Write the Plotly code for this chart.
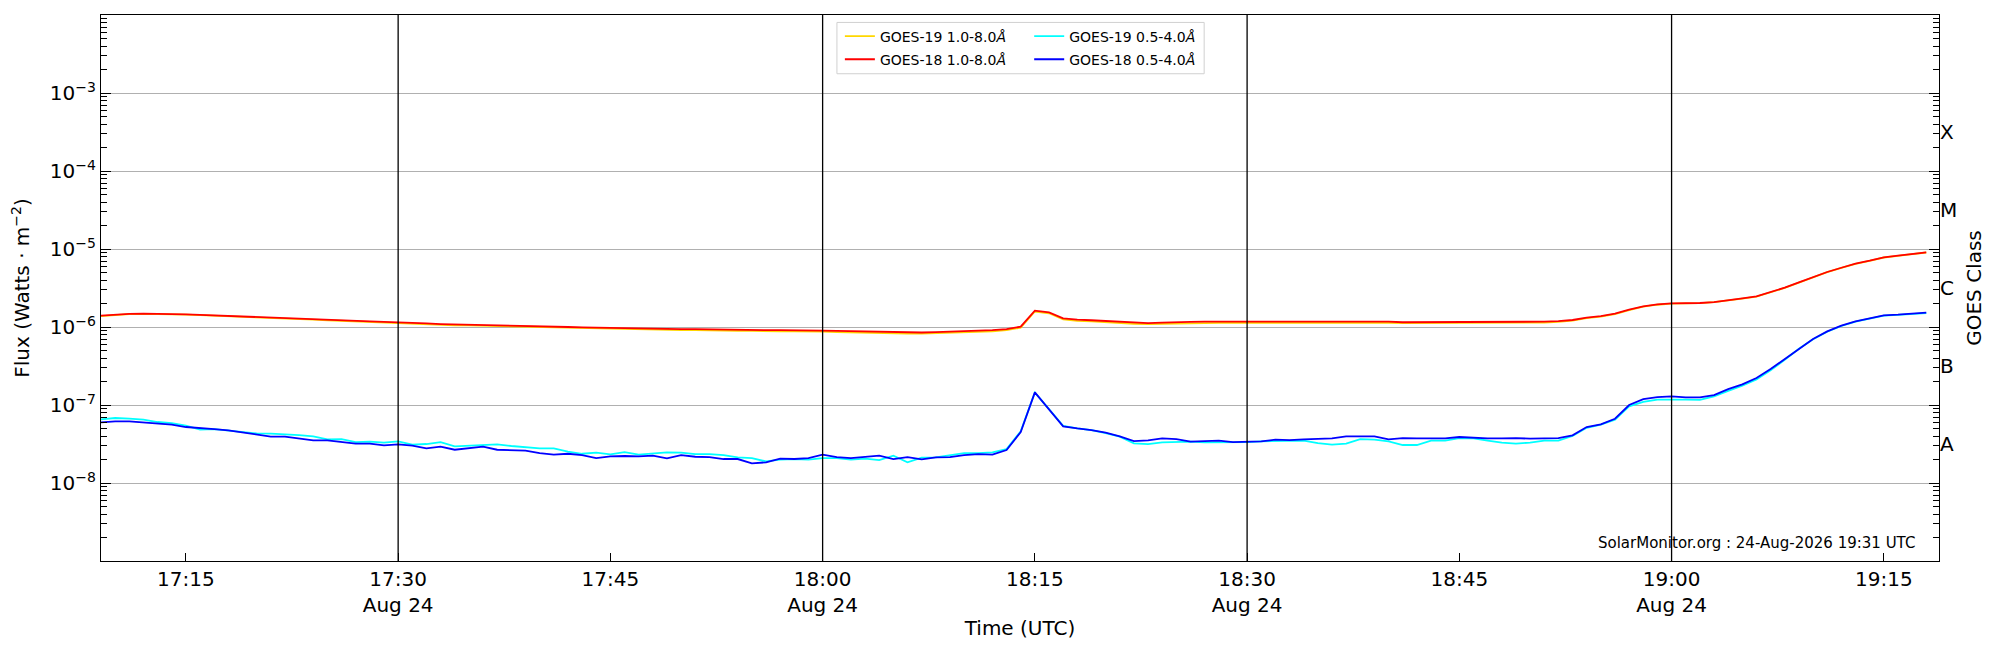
import pandas as pd
import plotly.graph_objects as go

# ---------------- data (1-minute cadence, 2026-08-24 17:09 .. 19:18 UTC) ----------------
start_time = "2026-08-24 17:09"
n_points = 130

# GOES-19 1.0-8.0 A  (x 1e-6 W/m^2)
goes19_long = [
    1.38, 1.43, 1.46, 1.47, 1.47, 1.46, 1.44, 1.42, 1.40, 1.38,
    1.36, 1.34, 1.31, 1.29, 1.27, 1.24, 1.22, 1.20, 1.18, 1.16,
    1.14, 1.12, 1.10, 1.08, 1.06, 1.05, 1.05, 1.04, 1.03, 1.02,
    1.01, 1.00, 0.98, 0.97, 0.96, 0.95, 0.94, 0.93, 0.93, 0.92,
    0.92, 0.91, 0.91, 0.90, 0.90, 0.89, 0.89, 0.88, 0.88, 0.88,
    0.88, 0.87, 0.86, 0.85, 0.84, 0.84, 0.83, 0.82, 0.82, 0.83,
    0.84, 0.85, 0.86, 0.88, 0.91, 0.98, 1.58, 1.50, 1.25, 1.20,
    1.18, 1.15, 1.12, 1.10, 1.09, 1.10, 1.12, 1.12, 1.13, 1.13,
    1.13, 1.13, 1.13, 1.13, 1.13, 1.14, 1.14, 1.14, 1.15, 1.15,
    1.15, 1.13, 1.12, 1.12, 1.12, 1.12, 1.12, 1.12, 1.12, 1.13,
    1.13, 1.14, 1.14, 1.16, 1.21, 1.30, 1.36, 1.46, 1.65, 1.82,
    1.93, 1.99, 2.00, 2.02, 2.08, 2.18, 2.31, 2.45, 2.76, 3.17,
    3.70, 4.34, 5.04, 5.72, 6.45, 7.05, 7.78, 8.17, 8.60, 9.02,
]

# GOES-18 1.0-8.0 A  (x 1e-6 W/m^2)
goes18_long = [
    1.40, 1.44, 1.47, 1.48, 1.48, 1.47, 1.45, 1.43, 1.41, 1.39,
    1.37, 1.35, 1.32, 1.30, 1.28, 1.26, 1.24, 1.22, 1.20, 1.18,
    1.16, 1.15, 1.13, 1.11, 1.09, 1.08, 1.08, 1.08, 1.07, 1.05,
    1.04, 1.03, 1.01, 1.00, 0.99, 0.98, 0.97, 0.96, 0.96, 0.95,
    0.95, 0.94, 0.94, 0.93, 0.93, 0.92, 0.92, 0.91, 0.91, 0.91,
    0.91, 0.90, 0.89, 0.88, 0.87, 0.87, 0.86, 0.85, 0.85, 0.86,
    0.87, 0.88, 0.89, 0.91, 0.94, 1.01, 1.62, 1.54, 1.29, 1.24,
    1.22, 1.19, 1.16, 1.13, 1.12, 1.14, 1.16, 1.16, 1.17, 1.17,
    1.17, 1.17, 1.17, 1.17, 1.17, 1.18, 1.18, 1.18, 1.19, 1.19,
    1.19, 1.17, 1.15, 1.15, 1.15, 1.15, 1.15, 1.15, 1.15, 1.16,
    1.16, 1.17, 1.17, 1.19, 1.23, 1.32, 1.38, 1.48, 1.67, 1.84,
    1.95, 2.01, 2.01, 2.03, 2.09, 2.19, 2.33, 2.47, 2.78, 3.19,
    3.73, 4.37, 5.07, 5.75, 6.48, 7.08, 7.81, 8.20, 8.63, 9.05,
]

# GOES-19 0.5-4.0 A  (x 1e-8 W/m^2)
goes19_short = [
    6.54, 6.81, 6.67, 6.48, 6.05, 5.87, 5.43, 4.83, 4.92, 4.69,
    4.55, 4.33, 4.29, 4.21, 4.12, 3.96, 3.63, 3.66, 3.35, 3.39,
    3.29, 3.42, 3.10, 3.16, 3.35, 2.95, 3.01, 3.01, 3.13, 2.98,
    2.86, 2.78, 2.78, 2.52, 2.37, 2.45, 2.33, 2.49, 2.31, 2.40,
    2.47, 2.45, 2.35, 2.35, 2.28, 2.13, 2.09, 1.89, 1.99, 2.03,
    1.99, 2.09, 2.09, 1.99, 2.05, 1.97, 2.24, 1.84, 2.11, 2.13,
    2.26, 2.42, 2.42, 2.47, 2.72, 4.59, 14.5, 8.80, 5.40, 5.00,
    4.77, 4.37, 3.93, 3.22, 3.15, 3.32, 3.39, 3.39, 3.32, 3.32,
    3.35, 3.35, 3.42, 3.45, 3.49, 3.49, 3.25, 3.10, 3.19, 3.66,
    3.59, 3.42, 3.07, 3.07, 3.49, 3.49, 3.77, 3.73, 3.50, 3.30,
    3.20, 3.30, 3.50, 3.50, 4.00, 5.10, 5.60, 6.50, 9.60, 11.0,
    11.7, 11.8, 11.7, 11.6, 12.9, 15.2, 17.7, 21.3, 27.8, 38.0,
    52.5, 69.5, 87.0, 103.0, 117.0, 128.0, 140.0, 143.0, 146.0, 151.0,
]

# GOES-18 0.5-4.0 A  (x 1e-8 W/m^2)
goes18_short = [
    5.99, 6.17, 6.17, 5.99, 5.75, 5.59, 5.22, 5.12, 4.92, 4.73,
    4.46, 4.12, 3.93, 3.93, 3.73, 3.52, 3.52, 3.35, 3.19, 3.19,
    3.04, 3.13, 3.01, 2.78, 2.92, 2.67, 2.78, 2.92, 2.67, 2.62,
    2.60, 2.42, 2.31, 2.37, 2.28, 2.09, 2.19, 2.22, 2.19, 2.24,
    2.07, 2.28, 2.17, 2.15, 2.03, 2.03, 1.79, 1.84, 2.05, 2.03,
    2.09, 2.31, 2.15, 2.09, 2.17, 2.24, 2.03, 2.15, 2.01, 2.13,
    2.15, 2.28, 2.35, 2.31, 2.65, 4.50, 14.5, 8.70, 5.32, 5.00,
    4.77, 4.41, 3.96, 3.45, 3.52, 3.73, 3.66, 3.39, 3.45, 3.49,
    3.35, 3.35, 3.42, 3.59, 3.55, 3.62, 3.70, 3.73, 3.96, 3.93,
    3.96, 3.62, 3.76, 3.73, 3.76, 3.73, 3.89, 3.80, 3.73, 3.73,
    3.77, 3.70, 3.73, 3.77, 4.08, 5.21, 5.65, 6.67, 10.0, 11.9,
    12.6, 12.9, 12.5, 12.5, 13.4, 16.0, 18.4, 22.2, 28.9, 38.8,
    53.2, 70.1, 87.9, 104.0, 118.0, 129.0, 141.0, 144.0, 147.0, 153.0,
]

series_names = ["GOES-19 1.0-8.0<i>Å</i>", "GOES-18 1.0-8.0<i>Å</i>",
                "GOES-19 0.5-4.0<i>Å</i>", "GOES-18 0.5-4.0<i>Å</i>"]
series_colors = ["#FFD700", "#FF0000", "#00FFFF", "#0000FF"]

tick_times = ["17:15", "17:30", "17:45", "18:00", "18:15", "18:30",
              "18:45", "19:00", "19:15"]
tick_labels = ["17:15", "17:30<br>Aug 24", "17:45", "18:00<br>Aug 24", "18:15",
               "18:30<br>Aug 24", "18:45", "19:00<br>Aug 24", "19:15"]
day_lines = ["17:30", "18:00", "18:30", "19:00"]

flux_exponents = [-8, -7, -6, -5, -4, -3]
goes_classes = ["A", "B", "C", "M", "X"]
class_exponents = [-7.5, -6.5, -5.5, -4.5, -3.5]

x_range = ["2026-08-24 17:09:00", "2026-08-24 19:18:54"]
y_range_exp = [-9, -2]
watermark = "SolarMonitor.org : 24-Aug-2026 19:31 UTC"

# ---------------- figure ----------------
FONT = "DejaVu Sans"
times = pd.date_range(start_time, periods=n_points, freq="1min")
day = "2026-08-24 "

fig = go.Figure()
scales = [1e-6, 1e-6, 1e-8, 1e-8]
values = [goes19_long, goes18_long, goes19_short, goes18_short]
legends = ["legend", "legend", "legend2", "legend2"]
for i, (name, col, sc, vals, lg) in enumerate(zip(series_names, series_colors, scales, values, legends)):
    fig.add_trace(go.Scatter(
        x=times, y=[v * sc for v in vals], mode="lines", name=name,
        line=dict(color=col, width=1.8), legend=lg,
        legendgroup=f"g{i}",
    ))

# invisible trace to carry the right (GOES class) axis
fig.add_trace(go.Scatter(x=[times[0]], y=[1e-5], yaxis="y2", mode="markers",
                         marker=dict(opacity=0), showlegend=False, hoverinfo="skip"))

for t in day_lines:
    fig.add_shape(type="line", xref="x", yref="paper", x0=day + t, x1=day + t,
                  y0=0, y1=1, line=dict(color="black", width=1.3), layer="above")

minor_vals = [k * 10.0 ** e for e in range(y_range_exp[0], y_range_exp[1]) for k in range(2, 10)]

# page body has an 8px default margin -> figure is 8px smaller so it fits the window
fig.update_layout(
    width=1992, height=642,
    margin=dict(l=93, r=61, t=7, b=89),
    paper_bgcolor="white", plot_bgcolor="white",
    font=dict(family=FONT, size=20, color="black"),
    showlegend=True,
    xaxis=dict(
        type="date", range=x_range,
        tickmode="array", tickvals=[day + t for t in tick_times], ticktext=tick_labels,
        ticks="inside", ticklen=8, tickwidth=1, tickcolor="black",
        showgrid=False, zeroline=False,
        showline=True, linecolor="black", linewidth=1.3, mirror=True,
        tickfont=dict(size=20),
        title=dict(text="Time (UTC)", font=dict(size=20), standoff=4),
    ),
    yaxis=dict(
        type="log", range=y_range_exp,
        tickmode="array", tickvals=[10.0 ** e for e in flux_exponents],
        ticktext=[f"10<sup>\u2212{-e}</sup>" for e in flux_exponents],
        ticks="inside", ticklen=10, tickwidth=1, tickcolor="black",
        minor=dict(tickmode="array", tickvals=minor_vals, ticks="inside",
                   ticklen=6, tickwidth=1, tickcolor="black", showgrid=False),
        showgrid=True, gridcolor="#b0b0b0", gridwidth=1.2,
        zeroline=False, showline=True, linecolor="black", linewidth=1.3, mirror="allticks",
        tickfont=dict(size=20),
        title=dict(text="Flux (Watts \u00b7 m<sup>\u22122</sup>)", font=dict(size=20), standoff=14),
    ),
    yaxis2=dict(
        type="log", range=y_range_exp, overlaying="y", side="right",
        tickmode="array", tickvals=[10.0 ** e for e in class_exponents], ticktext=goes_classes,
        ticks="", showgrid=False, zeroline=False, showline=False,
        tickfont=dict(size=20),
        title=dict(text="GOES Class", font=dict(size=20), standoff=10),
    ),
    legend=dict(x=0.402, xanchor="left", y=0.99, yanchor="top",
                bgcolor="rgba(0,0,0,0)", borderwidth=0, font=dict(size=14),
                tracegroupgap=2, traceorder="grouped"),
    legend2=dict(x=0.505, xanchor="left", y=0.99, yanchor="top",
                 bgcolor="rgba(0,0,0,0)", borderwidth=0, font=dict(size=14),
                 tracegroupgap=2, traceorder="grouped"),
)

# legend frame
fig.add_shape(type="rect", xref="paper", yref="paper", x0=0.4004, x1=0.6002,
              y0=0.8924, y1=0.9864, line=dict(color="#d0d0d0", width=1),
              fillcolor="rgba(255,255,255,0.8)", layer="above")

fig.add_annotation(text=watermark, xref="paper", yref="paper", x=0.988, y=0.033,
                   xanchor="right", yanchor="middle", showarrow=False,
                   font=dict(size=15, family=FONT, color="black"))

fig.write_html("out.html")
